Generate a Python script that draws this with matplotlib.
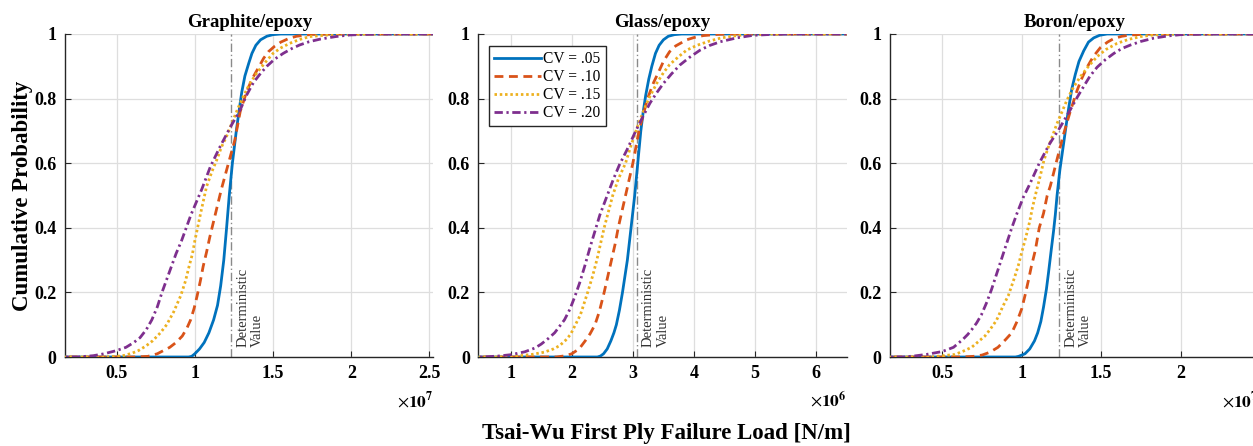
import matplotlib
matplotlib.use("Agg")
import matplotlib.pyplot as plt
from matplotlib.ticker import FuncFormatter, MultipleLocator
import matplotlib.transforms as mtransforms

plt.rcParams['font.family'] = ['Liberation Serif', 'DejaVu Serif']
plt.rcParams['mathtext.fontset'] = 'stix'

# ---------------- data ----------------
titles = ["Graphite/epoxy", "Glass/epoxy", "Boron/epoxy"]
exponents = [7, 6, 7]
cv_labels = ["CV = .05", "CV = .10", "CV = .15", "CV = .20"]
deterministic = [1.234, 3.065, 1.236]          # in units of 10^exp
xlims = [(0.17, 2.525), (0.47, 6.5), (0.17, 2.49)]
xtick_step = [0.5, 1.0, 0.5]

# Graphite/epoxy (x in 1e7 N/m)
gr_x05 = [0.10, 0.96, 0.98, 1.00, 1.03, 1.06, 1.09, 1.12, 1.145, 1.165, 1.185, 1.203, 1.22, 1.24, 1.265, 1.285, 1.30, 1.32, 1.345, 1.365, 1.39, 1.42, 1.46, 1.50, 1.55, 2.60]
gr_y05 = [0.0, 0.0, 0.002, 0.01, 0.025, 0.045, 0.075, 0.115, 0.16, 0.22, 0.30, 0.40, 0.50, 0.60, 0.70, 0.77, 0.82, 0.87, 0.91, 0.94, 0.965, 0.982, 0.993, 0.998, 1.0, 1.0]
gr_x10 = [0.10, 0.62, 0.70, 0.76, 0.80, 0.84, 0.88, 0.92, 0.95, 0.973, 0.995, 1.015, 1.035, 1.053, 1.075, 1.095, 1.13, 1.17, 1.215, 1.255, 1.29, 1.33, 1.365, 1.40, 1.44, 1.47, 1.51, 1.55, 1.60, 1.65, 1.75, 1.90, 2.60]
gr_y10 = [0.0, 0.0, 0.002, 0.01, 0.02, 0.03, 0.045, 0.065, 0.09, 0.115, 0.15, 0.19, 0.235, 0.28, 0.325, 0.37, 0.44, 0.52, 0.60, 0.67, 0.76, 0.82, 0.86, 0.89, 0.925, 0.945, 0.962, 0.975, 0.986, 0.993, 0.999, 1.0, 1.0]
gr_x15 = [0.10, 0.42, 0.50, 0.55, 0.60, 0.64, 0.69, 0.73, 0.78, 0.82, 0.865, 0.91, 0.94, 0.963, 0.985, 1.0, 1.037, 1.075, 1.11, 1.14, 1.17, 1.20, 1.245, 1.28, 1.309, 1.35, 1.394, 1.45, 1.50, 1.55, 1.606, 1.67, 1.734, 1.85, 1.99, 2.20, 2.60]
gr_y15 = [0.0, 0.0, 0.002, 0.005, 0.012, 0.02, 0.035, 0.05, 0.075, 0.10, 0.14, 0.19, 0.235, 0.28, 0.32, 0.36, 0.445, 0.528, 0.575, 0.61, 0.65, 0.68, 0.734, 0.775, 0.806, 0.845, 0.878, 0.912, 0.94, 0.957, 0.971, 0.983, 0.992, 0.997, 0.999, 1.0, 1.0]
gr_x20 = [0.10, 0.25, 0.30, 0.35, 0.42, 0.50, 0.56, 0.61, 0.65, 0.69, 0.725, 0.76, 0.79, 0.82, 0.85, 0.88, 0.915, 0.945, 0.975, 1.01, 1.045, 1.10, 1.16, 1.225, 1.29, 1.33, 1.375, 1.42, 1.46, 1.51, 1.565, 1.62, 1.67, 1.73, 1.80, 1.90, 1.99, 2.10, 2.20, 2.60]
gr_y20 = [0.0, 0.0, 0.002, 0.004, 0.01, 0.02, 0.03, 0.045, 0.06, 0.085, 0.115, 0.155, 0.20, 0.24, 0.28, 0.32, 0.36, 0.40, 0.44, 0.48, 0.52, 0.59, 0.65, 0.71, 0.765, 0.81, 0.85, 0.878, 0.90, 0.922, 0.94, 0.955, 0.966, 0.976, 0.984, 0.992, 0.997, 0.999, 1.0, 1.0]

# Glass/epoxy (x in 1e6 N/m)
gl_x05 = [0.30, 2.42, 2.47, 2.52, 2.58, 2.64, 2.69, 2.73, 2.78, 2.83, 2.87, 2.91, 2.97, 3.03, 3.08, 3.13, 3.17, 3.21, 3.26, 3.31, 3.37, 3.43, 3.50, 3.58, 3.68, 3.80, 6.60]
gl_y05 = [0.0, 0.0, 0.003, 0.01, 0.025, 0.05, 0.075, 0.10, 0.145, 0.20, 0.25, 0.30, 0.40, 0.50, 0.60, 0.70, 0.76, 0.81, 0.86, 0.90, 0.94, 0.965, 0.982, 0.993, 0.998, 1.0, 1.0]
gl_x10 = [0.30, 1.75, 1.90, 2.00, 2.12, 2.22, 2.30, 2.38, 2.45, 2.53, 2.59, 2.65, 2.71, 2.76, 2.82, 2.88, 2.94, 3.00, 3.05, 3.10, 3.17, 3.24, 3.28, 3.34, 3.44, 3.50, 3.60, 3.70, 3.88, 4.00, 4.15, 4.40, 4.60, 6.60]
gl_y10 = [0.0, 0.0, 0.004, 0.01, 0.025, 0.05, 0.072, 0.10, 0.14, 0.20, 0.25, 0.30, 0.35, 0.40, 0.45, 0.50, 0.55, 0.60, 0.65, 0.70, 0.75, 0.80, 0.82, 0.85, 0.89, 0.915, 0.945, 0.963, 0.982, 0.989, 0.995, 0.999, 1.0, 1.0]
gl_x15 = [0.30, 1.00, 1.15, 1.35, 1.55, 1.70, 1.80, 1.90, 1.98, 2.06, 2.14, 2.20, 2.26, 2.34, 2.41, 2.47, 2.53, 2.60, 2.67, 2.76, 2.88, 2.97, 3.07, 3.16, 3.26, 3.39, 3.50, 3.60, 3.75, 3.88, 4.05, 4.25, 4.45, 4.70, 5.00, 5.30, 6.60]
gl_y15 = [0.0, 0.0, 0.004, 0.008, 0.015, 0.025, 0.035, 0.052, 0.07, 0.10, 0.13, 0.165, 0.20, 0.25, 0.30, 0.35, 0.40, 0.45, 0.50, 0.55, 0.60, 0.655, 0.71, 0.755, 0.80, 0.847, 0.88, 0.905, 0.93, 0.95, 0.965, 0.978, 0.988, 0.995, 0.999, 1.0, 1.0]
gl_x20 = [0.30, 0.55, 0.80, 1.00, 1.23, 1.40, 1.50, 1.62, 1.72, 1.80, 1.88, 1.97, 2.05, 2.13, 2.21, 2.30, 2.38, 2.46, 2.53, 2.60, 2.68, 2.78, 2.90, 3.06, 3.18, 3.28, 3.39, 3.50, 3.63, 3.77, 3.93, 4.10, 4.25, 4.43, 4.70, 4.97, 5.30, 5.60, 6.60]
gl_y20 = [0.0, 0.0, 0.003, 0.007, 0.016, 0.028, 0.04, 0.058, 0.075, 0.095, 0.115, 0.148, 0.187, 0.23, 0.28, 0.34, 0.39, 0.44, 0.475, 0.51, 0.55, 0.595, 0.64, 0.705, 0.75, 0.786, 0.818, 0.847, 0.876, 0.904, 0.928, 0.95, 0.964, 0.976, 0.988, 0.996, 0.999, 1.0, 1.0]

# Boron/epoxy (x in 1e7 N/m)
bo_x05 = [0.10, 0.96, 0.98, 1.02, 1.05, 1.08, 1.10, 1.12, 1.137, 1.155, 1.168, 1.185, 1.20, 1.211, 1.222, 1.24, 1.263, 1.28, 1.295, 1.315, 1.337, 1.36, 1.39, 1.42, 1.453, 1.49, 1.537, 2.60]
bo_y05 = [0.0, 0.0, 0.002, 0.01, 0.025, 0.05, 0.075, 0.11, 0.155, 0.21, 0.26, 0.33, 0.39, 0.44, 0.50, 0.58, 0.66, 0.72, 0.77, 0.83, 0.875, 0.915, 0.948, 0.975, 0.988, 0.996, 1.0, 1.0]
bo_x10 = [0.10, 0.62, 0.695, 0.75, 0.80, 0.85, 0.90, 0.937, 0.97, 1.00, 1.02, 1.042, 1.06, 1.085, 1.11, 1.137, 1.16, 1.18, 1.221, 1.263, 1.305, 1.348, 1.38, 1.411, 1.45, 1.495, 1.54, 1.58, 1.63, 1.685, 1.80, 2.60]
bo_y10 = [0.0, 0.0, 0.002, 0.006, 0.015, 0.03, 0.055, 0.075, 0.11, 0.15, 0.19, 0.238, 0.28, 0.33, 0.40, 0.445, 0.50, 0.53, 0.61, 0.69, 0.76, 0.825, 0.865, 0.897, 0.93, 0.958, 0.975, 0.986, 0.993, 0.997, 1.0, 1.0]
bo_x15 = [0.10, 0.43, 0.484, 0.58, 0.631, 0.684, 0.737, 0.768, 0.80, 0.84, 0.884, 0.915, 0.95, 0.979, 1.00, 1.025, 1.05, 1.066, 1.09, 1.116, 1.14, 1.169, 1.221, 1.254, 1.284, 1.325, 1.369, 1.42, 1.474, 1.53, 1.60, 1.67, 1.748, 1.83, 1.90, 2.00, 2.60]
bo_y15 = [0.0, 0.0, 0.003, 0.008, 0.018, 0.03, 0.052, 0.065, 0.085, 0.113, 0.16, 0.19, 0.24, 0.285, 0.325, 0.37, 0.42, 0.46, 0.51, 0.56, 0.61, 0.652, 0.722, 0.76, 0.795, 0.835, 0.868, 0.90, 0.93, 0.952, 0.971, 0.983, 0.992, 0.997, 0.999, 1.0, 1.0]
bo_x20 = [0.10, 0.25, 0.32, 0.40, 0.50, 0.57, 0.63, 0.66, 0.685, 0.715, 0.745, 0.78, 0.81, 0.84, 0.87, 0.90, 0.937, 0.97, 1.01, 1.05, 1.11, 1.175, 1.24, 1.305, 1.35, 1.39, 1.43, 1.474, 1.525, 1.58, 1.63, 1.685, 1.75, 1.83, 1.92, 2.00, 2.20, 2.60]
bo_y20 = [0.0, 0.0, 0.003, 0.008, 0.017, 0.03, 0.055, 0.07, 0.085, 0.105, 0.13, 0.17, 0.21, 0.255, 0.30, 0.345, 0.40, 0.445, 0.495, 0.535, 0.60, 0.66, 0.71, 0.765, 0.805, 0.838, 0.87, 0.897, 0.92, 0.94, 0.955, 0.966, 0.977, 0.987, 0.994, 0.998, 1.0, 1.0]

panels = [
    [(gr_x05, gr_y05), (gr_x10, gr_y10), (gr_x15, gr_y15), (gr_x20, gr_y20)],
    [(gl_x05, gl_y05), (gl_x10, gl_y10), (gl_x15, gl_y15), (gl_x20, gl_y20)],
    [(bo_x05, bo_y05), (bo_x10, bo_y10), (bo_x15, bo_y15), (bo_x20, bo_y20)],
]

# ---------------- styling ----------------
colors = ['#0072BD', '#D95319', '#EDB120', '#7E2F8E']
dashes = [None, (3.2, 2.0), (0.9, 1.0), (3.0, 1.3, 0.8, 1.3)]

fig = plt.figure(figsize=(12.53, 4.46), dpi=100)
lefts = [65 / 1253, 478.3 / 1253, 890 / 1253]
bottom = 89 / 446
height = 323 / 446
width = 368.4 / 1253

fmt = FuncFormatter(lambda v, p: f"{v:g}")

for i in range(3):
    ax = fig.add_axes([lefts[i], bottom, width, height])
    for j, (xs, ys) in enumerate(panels[i]):
        ln, = ax.plot(xs, ys, color=colors[j], lw=2.0, label=cv_labels[j], zorder=3,
                      solid_joinstyle='round', dash_joinstyle='round')
        if dashes[j] is not None:
            ln.set_dashes(dashes[j])
    ax.axvline(deterministic[i], color='#8a8a8a', lw=1.0, dashes=(6, 2, 1, 2), zorder=2)
    off = mtransforms.offset_copy(ax.transData, fig=fig, x=5, y=0, units='dots')
    ax.text(deterministic[i], 0.031, "Deterministic\nValue", transform=off,
            rotation=90, ha='left', va='bottom', multialignment='left',
            fontsize=10.5, color='#333333', linespacing=1.15, zorder=4)

    ax.set_xlim(*xlims[i])
    ax.set_ylim(0, 1)
    ax.xaxis.set_major_locator(MultipleLocator(xtick_step[i]))
    ax.yaxis.set_major_locator(MultipleLocator(0.2))
    ax.xaxis.set_major_formatter(fmt)
    ax.yaxis.set_major_formatter(fmt)
    ax.grid(True, color='#dedede', lw=0.9, zorder=0)
    ax.set_axisbelow(True)
    for s in ['top', 'right']:
        ax.spines[s].set_visible(False)
    for s in ['left', 'bottom']:
        ax.spines[s].set_color('#262626')
        ax.spines[s].set_linewidth(1.0)
    ax.tick_params(direction='in', length=4, width=0.8, color='#262626',
                   labelsize=13, pad=6)
    for lab in ax.get_xticklabels() + ax.get_yticklabels():
        lab.set_fontweight('bold')
    ax.set_title(titles[i], fontsize=13.5, fontweight='bold', pad=5)
    ax.text(1.0, -0.135, r'$\times\mathbf{10^{%d}}$' % exponents[i], transform=ax.transAxes,
            ha='right', va='center', fontsize=12.5)
    if i == 0:
        ax.set_ylabel("Cumulative Probability", fontsize=16.5, fontweight='bold', labelpad=1)
    if i == 1:
        leg = ax.legend(loc='upper left', bbox_to_anchor=(0.029, 0.963), borderaxespad=0,
                        fontsize=11.2, handlelength=3.0, handletextpad=0.15,
                        labelspacing=0.12, borderpad=0.35, fancybox=False,
                        framealpha=1, edgecolor='#262626')
        leg.get_frame().set_linewidth(1.0)

fig.text(0.532, 0.029, "Tsai-Wu First Ply Failure Load [N/m]", ha='center', va='center',
         fontsize=16.5, fontweight='bold')

fig.savefig("out.png", dpi=100)
